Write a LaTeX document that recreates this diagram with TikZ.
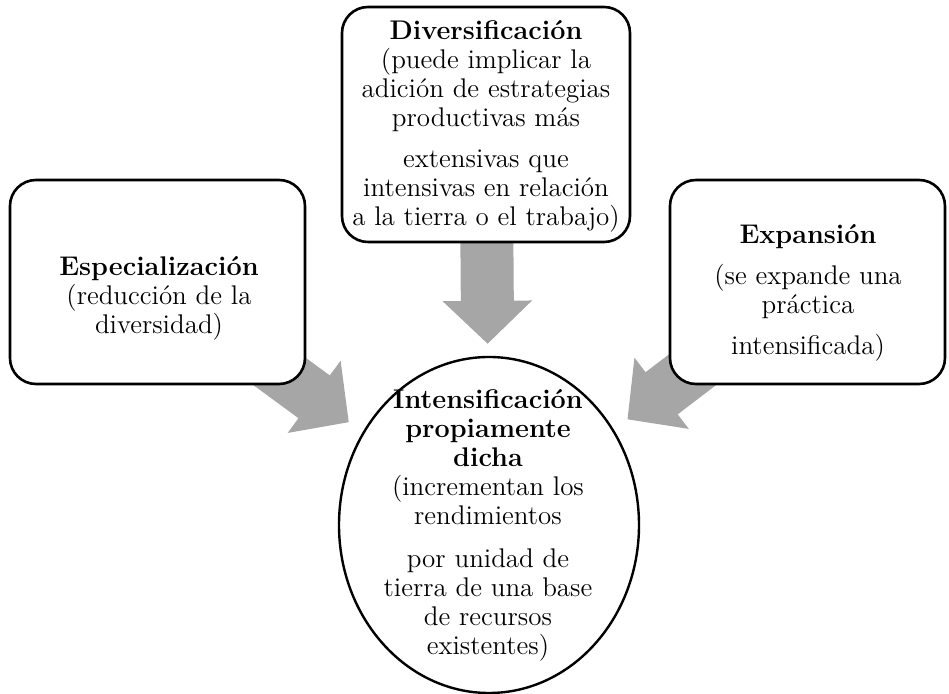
\documentclass[tikz,border=0pt]{standalone}
\usepackage{tikz}
\usetikzlibrary{arrows.meta,shapes.geometric}
\pgfdeclarelayer{background}
\pgfsetlayers{background,main}

\begin{document}
\begin{tikzpicture}[x=0.5pt,y=-0.5pt,
  stage/.style={draw,line width=1.3pt,rectangle,rounded corners=13pt,fill=white},
  words/.style={align=center,font=\fontsize{13.5}{14.5}\selectfont},
  push/.style={line width=26.5pt,gray!70,-{Triangle[length=21.5pt,width=43.5pt]}}]

\useasboundingbox (0,0) rectangle (949,694);

% specialization node
\node[stage,minimum width=147.5pt,minimum height=102pt] (spec) at (157.5,282) {};
\node[words] (spec text) at (159,298) {\textbf{Especialización}\\(reducción de la\\diversidad)};

% diversification node
\node[stage,minimum width=144pt,minimum height=117.5pt] (div) at (486,124.5) {};
\node[words] (div text) at (486,126) {\textbf{Diversificación}\\(puede implicar la\\adición de estrategias\\productivas más\\[6pt]extensivas que\\intensivas en relación\\a la tierra o el trabajo)};

% expansion node
\node[stage,minimum width=137.5pt,minimum height=102pt] (exp) at (807.5,282) {};
\node[words] (exp text) at (808,293) {\textbf{Expansión}\\[6pt](se expande una\\práctica\\[6pt]intensificada)};

% intensification node
\node[ellipse,draw,line width=1.2pt,fill=white,inner sep=0pt,minimum width=150pt,minimum height=168pt] (int) at (489,525) {};
\node[words] (int text) at (488,525) {\textbf{Intensificación}\\\textbf{propiamente}\\\textbf{dicha}\\(incrementan los\\rendimientos\\[7pt]por unidad de\\tierra de una base\\de recursos\\existentes)};

% block arrows behind the boxes
\begin{pgfonlayer}{background}
\draw[push,shorten >=6pt] (div.center) -- (int);
\draw[push,shorten >=8.5pt] (spec.center) -- (int);
\draw[push,shorten >=8.5pt] (exp.center) -- (int);
\end{pgfonlayer}

\end{tikzpicture}
\end{document}
